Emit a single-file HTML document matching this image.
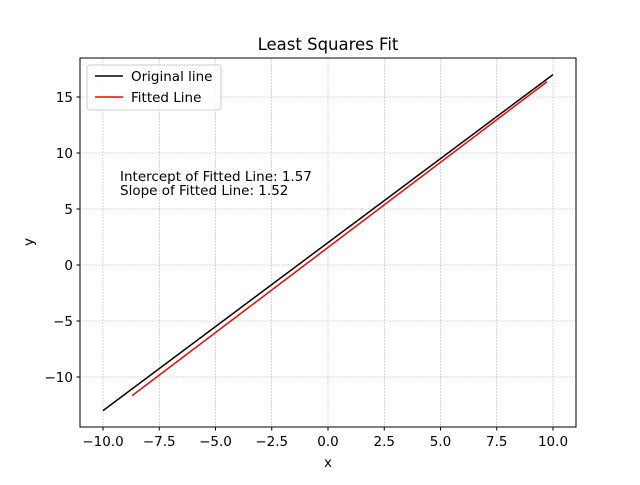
<!DOCTYPE html>
<html><head><meta charset="utf-8"><style>
body{margin:0;background:#fff}
svg{font-family:"DejaVu Sans","Liberation Sans",sans-serif}
</style></head><body>
<svg id="chart" width="640" height="480">
<rect x="0" y="0" width="640" height="480" fill="#fff"/>
<g id="grid"></g>
<g id="ticks"></g>
<g id="lines"></g>
<rect x="80" y="58" width="496" height="369" fill="none" stroke="#000" stroke-width="1"/>
<text x="328" y="50" text-anchor="middle" font-size="16.5">Least Squares Fit</text>
<text x="328" y="467" text-anchor="middle" font-size="13.5">x</text>
<text x="33" y="242" text-anchor="middle" font-size="13.5" transform="rotate(-90 33 242)">y</text>
<text x="120" y="181" font-size="13.5">Intercept of Fitted Line: 1.57</text>
<text x="120" y="195" font-size="13.5">Slope of Fitted Line: 1.52</text>
<g>
<rect x="87" y="65" width="134" height="45" rx="3" fill="#fff" fill-opacity="0.8" stroke="#ccc"/>
<line x1="95" y1="76" x2="123" y2="76" stroke="#000" stroke-width="1.5"/>
<text x="131" y="81" font-size="13.5">Original line</text>
<line x1="95" y1="97" x2="123" y2="97" stroke="red" stroke-width="1.5"/>
<text x="131" y="102" font-size="13.5">Fitted Line</text>
</g>
</svg>
<script>
const xTicks=[-10,-7.5,-5,-2.5,0,2.5,5,7.5,10];
const yTicks=[-10,-5,0,5,10,15];
const origX=[-10,10];
const origY=[-13,17];
const fitX=[-8.71,9.73];
const fitIntercept=1.57;
const fitSlope=1.52;
const X=v=>328+v*22.5;
const Y=v=>265-v*11.2;
const ns="http://www.w3.org/2000/svg";
function mk(t,a,p){const e=document.createElementNS(ns,t);for(const k in a)e.setAttribute(k,a[k]);p.appendChild(e);return e;}
const g=document.getElementById('grid'),tk=document.getElementById('ticks'),ln=document.getElementById('lines');
xTicks.forEach(v=>{
 const l=mk('line',{x1:X(v),x2:X(v),y1:58,y2:427,stroke:'#b0b0b0','stroke-width':0.5,'stroke-dasharray':'2,1'},g);
 
 
 mk('line',{x1:X(v),x2:X(v),y1:427,y2:430.5,stroke:'#000'},tk);
 const t=mk('text',{x:X(v),y:446,'text-anchor':'middle','font-size':13.5},tk);
 t.textContent=(v<0?'\u2212':'')+Math.abs(v).toFixed(1);
 
 
});
yTicks.forEach(v=>{
 const l=mk('line',{x1:80,x2:576,y1:Y(v),y2:Y(v),stroke:'#b0b0b0','stroke-width':0.5,'stroke-dasharray':'2,1'},g);
 
 
 mk('line',{x1:76.5,x2:80,y1:Y(v),y2:Y(v),stroke:'#000'},tk);
 const t=mk('text',{x:73,y:Y(v)+5,'text-anchor':'end','font-size':13.5},tk);
 t.textContent=(v<0?'\u2212':'')+Math.abs(v);
 
 
});
const o=mk('line',{x1:X(origX[0]),y1:Y(origY[0]),x2:X(origX[1]),y2:Y(origY[1]),stroke:'#000','stroke-width':1.5},ln);


const f=mk('line',{x1:X(fitX[0]),y1:Y(fitIntercept+fitSlope*fitX[0]),x2:X(fitX[1]),y2:Y(fitIntercept+fitSlope*fitX[1]),stroke:'red','stroke-width':1.5},ln);


</script>
</body></html>
